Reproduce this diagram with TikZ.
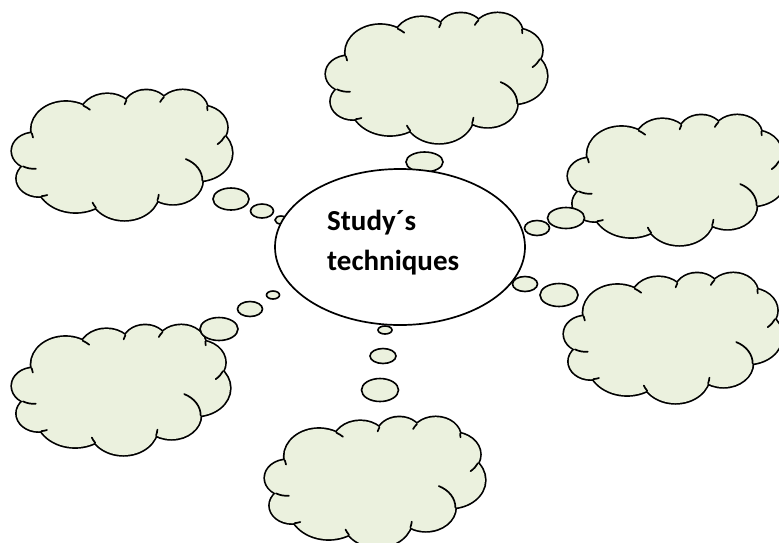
\documentclass[tikz,border=0pt]{standalone}
\usepackage{fontspec}
\newfontfamily\calibri{Carlito}
\usetikzlibrary{shapes.geometric}
\definecolor{cloudgreen}{HTML}{EBF1DE}

% puffs of one cloud: centre x/y, radius x/y (box 432 x 432)
\newcommand\cloudpuffs{105.9/131.3/67.53/91.90, 187.1/86.1/53.33/72.67,
  263.8/60.4/43.65/59.45, 335.3/66.5/48.57/65.95, 369.1/124.6/53.33/72.73,
  364.2/209.7/67.75/92.20, 316.0/300.3/57.85/78.67, 220.9/340.0/67.52/92.15,
  125.0/300.5/77.20/105.43, 53.1/294.0/43.60/59.18, 43.6/202.5/43.45/59.45}

\tikzset{
  cloudline/.style={line width=1.7pt,line cap=round},
  cloud/.pic={
    \foreach \cx/\cy/\rx/\ry in \cloudpuffs
      \draw[line width=3.4pt] (\cx,\cy) ellipse[x radius=\rx,y radius=\ry];
    \foreach \cx/\cy/\rx/\ry in \cloudpuffs
      \fill[cloudgreen] (\cx,\cy) ellipse[x radius=\rx,y radius=\ry];
    \fill[cloudgreen] (105.9,131.3) -- (187.1,86.1) -- (263.8,60.4)
      -- (335.3,66.5) -- (369.1,124.6) -- (364.2,209.7) -- (316.0,300.3)
      -- (220.9,340.0) -- (125.0,300.5) -- (53.1,294.0) -- (43.6,202.5) -- cycle;
    % folds inside the cloud
    \foreach \cx/\cy/\rx/\ry/\sa/\ea in {
        43.6/202.5/43.45/59.45/86.74/113.17,
        53.1/294.0/43.60/59.18/73.61/85.06,
        220.9/340.0/67.52/92.15/137.62/151.70,
        220.9/340.0/67.52/92.15/6.45/22.45,
        316.0/300.3/57.85/78.67/-70.29/0.63,
        369.1/124.6/53.33/72.73/30.32/58.07,
        335.3/66.5/48.57/65.95/-13.74/1.11,
        335.3/66.5/48.57/65.95/-149.18/-130.99,
        263.8/60.4/43.65/59.45/-163.49/-145.81,
        105.9/131.3/67.53/91.90/-66.71/-54.39,
        105.9/131.3/67.53/91.90/157.65/169.51}{
      \pgfmathsetmacro\ta{atan2(\rx*sin(\sa),\ry*cos(\sa))}
      \pgfmathsetmacro\tb{atan2(\rx*sin(\ea),\ry*cos(\ea))}
      \draw[cloudline] (\cx,\cy) ++({\rx*cos(\ta)},{\ry*sin(\ta)})
        arc[start angle=\ta,end angle=\tb,x radius=\rx,y radius=\ry];
    }
  }
}

\begin{document}
\begin{tikzpicture}[x=1pt,y=-1pt,
    bubble/.style={draw,fill=cloudgreen,line width=1.6pt},
    hub/.style={draw,ellipse,fill=white,line width=1.7pt,inner sep=0pt,
      minimum width=250,minimum height=156},
    topic/.style={anchor=west,align=left,inner sep=0pt,
      font=\calibri\bfseries\fontsize{29}{40}\selectfont}]
  \useasboundingbox (0,0) rectangle (779,542);
  % clouds: left/top corner, width/432, height/432
  \pic[xscale=220/432,yscale=130/432] at (12,90) {cloud};
  \pic[xscale=221/432,yscale=130/432] at (326,13) {cloud};
  \pic[xscale=218/432,yscale=130/432] at (568,115) {cloud};
  \pic[xscale=218/432,yscale=130/432] at (564,273) {cloud};
  \pic[xscale=218/432,yscale=130/432] at (12,325) {cloud};
  \pic[xscale=220/432,yscale=130/432] at (265,417) {cloud};
  % thought bubbles
  \foreach \bx/\by/\brx/\bry in {424.5/162/18.5/10,
      231/199/18/11, 262/211/11.5/7, 281/220/6/4,
      537/228/12.5/7.5, 566/218/18.5/10.5,
      525/284/12.5/7.5, 559/295/19/11.5,
      273/295/6.5/4, 250/309/12.5/7.5, 219/329/19/11.5,
      385/330/7/4, 383/356/13/7.5, 380/390/18.5/11.5}
    \draw[bubble] (\bx,\by) ellipse[x radius=\brx,y radius=\bry];
  \node[hub] (hub) at (400,247) {};
  \node[topic] (topic) at (327,243) {Study´s\\techniques};
\end{tikzpicture}
\end{document}
